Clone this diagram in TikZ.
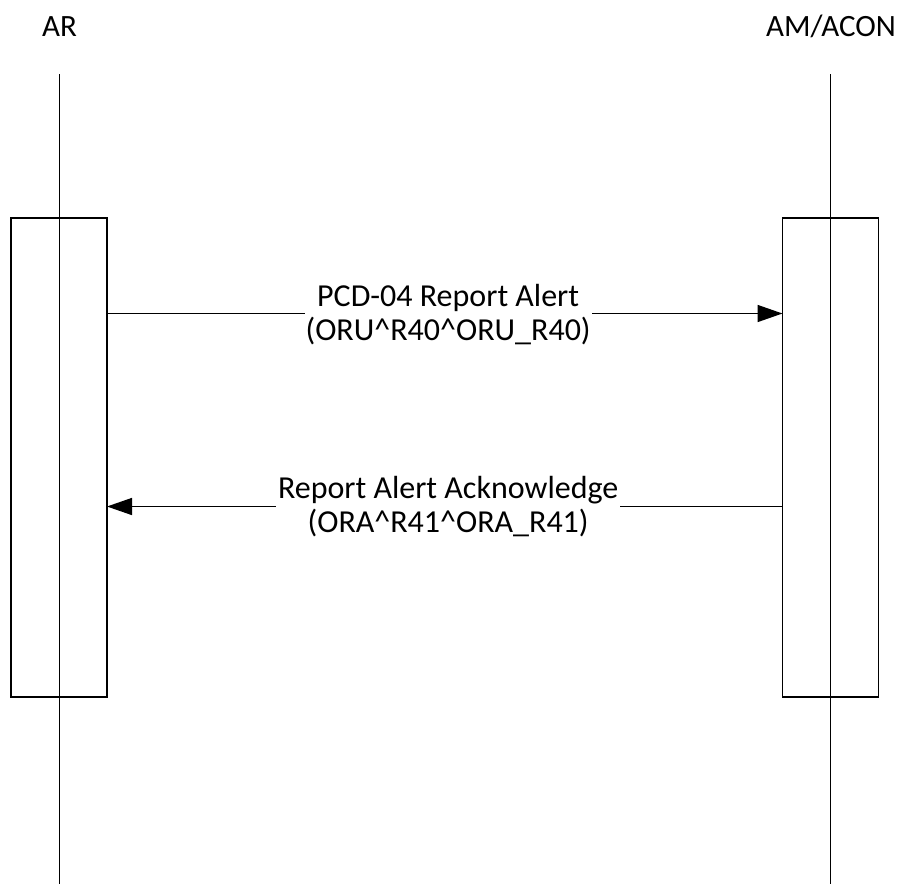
\documentclass[tikz,border=0pt]{standalone}
\usepackage{fontspec}
\setmainfont{Carlito}
\usetikzlibrary{arrows.meta,positioning}
\definecolor{SeqInk}{gray}{0.0}
\definecolor{SeqPaper}{gray}{1.0}
\tikzset{
    seq/diagram/.style={
        x=1pt, y=-1pt,
        font=\fontsize{32}{34}\selectfont,
        draw=SeqInk,
        text=SeqInk,
        line width=1.5pt,
        every node/.style={inner sep=0pt, outer sep=0pt}
    },
    seq/head/.style={anchor=base},
    seq/lifeline/.style={draw=SeqInk, line width=1.5pt},
    seq/bar/.style={
        draw=SeqInk, line width=1.5pt,
        minimum width=96pt, minimum height=479pt
    },
    seq/message/.style={
        draw=SeqInk, line width=1.5pt,
        -{Triangle[length=25pt, width=17pt]}
    },
    seq/label/.style={fill=SeqPaper, align=center, inner ysep=1pt}
}

\begin{document}
\begin{tikzpicture}[seq/diagram]
    \useasboundingbox (0,0) rectangle (902,884);
    % participants
    \node[seq/head, font=\fontsize{31}{34}\selectfont] (arHead) at (59.5,36) {AR};
    \node[seq/head, font=\fontsize{31}{34}\selectfont] (amHead) at (831,36) {AM/ACON};
    \coordinate (arTop) at (59.5,74);
    \coordinate (arEnd) at (59.5,884);
    \coordinate (amTop) at (830.5,74);
    \coordinate (amEnd) at (830.5,884);
    % activation bars, the lifeline runs through them
    \node[seq/bar] (arBar) at (59,457.5) {};
    \node[seq/bar] (amBar) at (830.5,457.5) {};
    \draw[seq/lifeline] (arTop) -- (arEnd);
    \draw[seq/lifeline] (amTop) -- (amEnd);
    % messages
    \coordinate (reportY) at (0,313.5);
    \coordinate (ackY) at (0,506.5);
    \draw[seq/message] (arBar.east |- reportY) --
        node[seq/label, pos=0.505, minimum width=287pt, yshift=-1pt]
        {PCD-04 Report Alert\\(ORU\textasciicircum R40\textasciicircum ORU\textunderscore R40)}
        (amBar.west |- reportY);
    \draw[seq/message] (amBar.west |- ackY) --
        node[seq/label, pos=0.495, inner xsep=2pt]
        {Report Alert Acknowledge\\(ORA\textasciicircum R41\textasciicircum ORA\textunderscore R41)}
        (arBar.east |- ackY);
\end{tikzpicture}
\end{document}
